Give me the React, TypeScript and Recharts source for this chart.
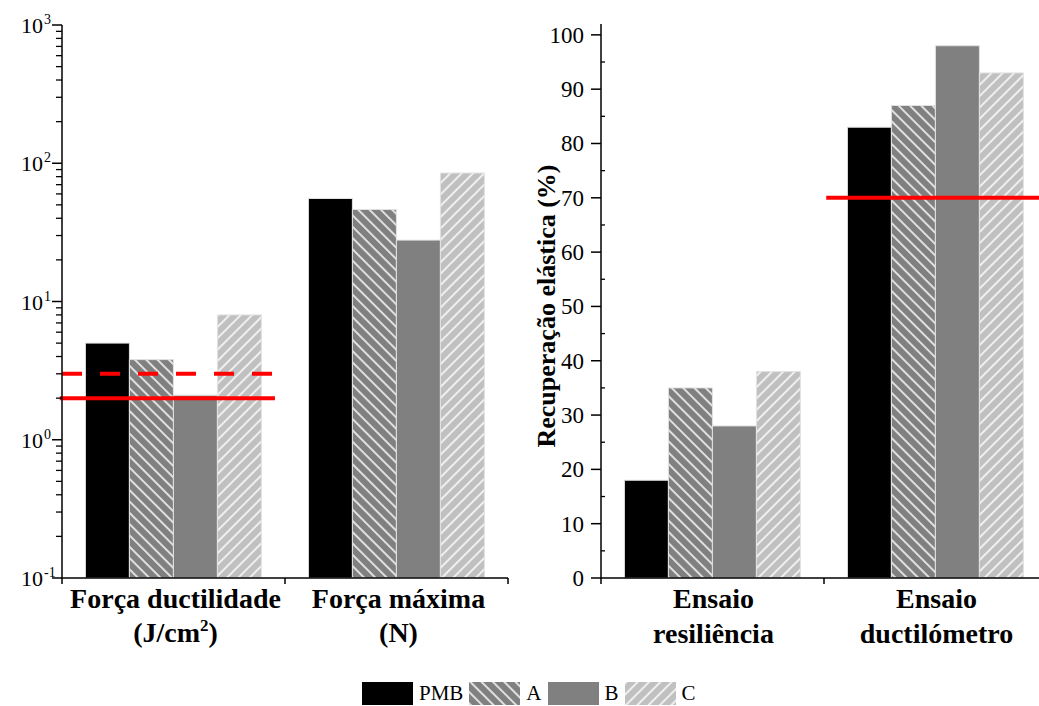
import React from 'react';
import { BarChart, Bar, XAxis, YAxis, ReferenceLine } from 'recharts';

// ---- data ----
const seriesNames = ['PMB', 'A', 'B', 'C'];

const leftCategories = ['Força ductilidade', 'Força máxima'];
const leftUnits = ['(J/cm²)', '(N)'];
const leftPMB = [5.0, 55.6];
const leftA = [3.8, 46.3];
const leftB = [2.1, 27.8];
const leftC = [8.0, 85];

const rightCategories = ['Ensaio', 'Ensaio'];
const rightSecond = ['resiliência', 'ductilómetro'];
const rightPMB = [18, 83];
const rightA = [35, 87];
const rightB = [28, 98];
const rightC = [38, 93];

// limit lines: value and horizontal span in category units (0 .. number of categories)
const leftLimitSolid = 2;
const leftLimitSolidSpan = [-0.01, 0.955];
const leftLimitDashed = 3;
const leftLimitDashedSpan = [0, 0.95];
const rightLimit = 70;
const rightLimitSpan = [1.01, 2];

const logMajor = [0.1, 1, 10, 100, 1000];
const linMajor = [0, 10, 20, 30, 40, 50, 60, 70, 80, 90, 100];

// ---- styling ----
const FONT = '"Liberation Serif", "Times New Roman", serif';
const PLOT_W = 446;
const RED = '#ff0000';
const fills = ['#000000', 'url(#hatchA)', '#808080', 'url(#hatchC)'];

const leftData = leftCategories.map((name, i) => ({
  name,
  unit: leftUnits[i],
  PMB: leftPMB[i],
  A: leftA[i],
  B: leftB[i],
  C: leftC[i],
}));

const rightData = rightCategories.map((name, i) => ({
  name: name + ' ' + rightSecond[i],
  line1: name,
  line2: rightSecond[i],
  PMB: rightPMB[i],
  A: rightA[i],
  B: rightB[i],
  C: rightC[i],
}));

// minor ticks for the log axis (2..9 in every decade)
const logTicks: number[] = [];
for (let d = 0; d < logMajor.length; d++) {
  logTicks.push(logMajor[d]);
  if (d < logMajor.length - 1) {
    for (let k = 2; k <= 9; k++) logTicks.push(+(logMajor[d] * k).toPrecision(3));
  }
}
const linTicks: number[] = [];
linMajor.forEach((v, i) => {
  linTicks.push(v);
  if (i < linMajor.length - 1) linTicks.push(v + 5);
});

function Patterns() {
  return (
    <svg width={0} height={0} style={{ position: 'absolute' }}>
      <defs>
        <pattern id="hatchA" patternUnits="userSpaceOnUse" width={8} height={8} patternTransform="rotate(-45)">
          <rect width={8} height={8} fill="#808080" />
          <line x1={1} y1={0} x2={1} y2={8} stroke="#ffffff" strokeWidth={1.5} />
        </pattern>
        <pattern id="hatchC" patternUnits="userSpaceOnUse" width={8} height={8} patternTransform="rotate(45)">
          <rect width={8} height={8} fill="#c0c0c0" />
          <line x1={1} y1={0} x2={1} y2={8} stroke="#ffffff" strokeWidth={1.5} />
        </pattern>
      </defs>
    </svg>
  );
}

// reference line limited to a span of the category range
function spanLine(span: number[], count: number, dash?: string) {
  return (p: any) => {
    const w = p.x2 - p.x1;
    const xa = p.x1 + (w * span[0]) / count;
    const xb = p.x1 + (w * span[1]) / count;
    return (
      <line x1={xa} y1={p.y1} x2={xb} y2={p.y2} stroke={RED} strokeWidth={4} strokeDasharray={dash} />
    );
  };
}

function LogTick(props: any) {
  const { x, y, payload } = props;
  const v = payload.value;
  const exp = Math.log10(v);
  const major = Math.abs(exp - Math.round(exp)) < 1e-6;
  if (!major) {
    return <line x1={x - 6} y1={y} x2={x} y2={y} stroke="#000" strokeWidth={1.3} />;
  }
  return (
    <g>
      <line x1={x - 10} y1={y} x2={x} y2={y} stroke="#000" strokeWidth={1.5} />
      <text x={x - 19} y={y + 8} textAnchor="end" fontFamily={FONT} fontSize={22} fill="#000">
        10
      </text>
      <text x={x - 18} y={y - 1} textAnchor="start" fontFamily={FONT} fontSize={14} fill="#000">
        {Math.round(exp)}
      </text>
    </g>
  );
}

function LinTick(props: any) {
  const { x, y, payload } = props;
  const v = payload.value;
  if (v % 10 !== 0) {
    return <line x1={x} y1={y} x2={x + 4} y2={y} stroke="#000" strokeWidth={1.3} />;
  }
  return (
    <g>
      <line x1={x - 10} y1={y} x2={x} y2={y} stroke="#000" strokeWidth={1.5} />
      <text x={x - 17} y={y + 8} textAnchor="end" fontFamily={FONT} fontSize={23} fill="#000">
        {v}
      </text>
    </g>
  );
}

function boundaryTicks(x: number, y: number, index: number, count: number) {
  const band = PLOT_W / count;
  const lines = [
    <line key="l" x1={x - band / 2} y1={y} x2={x - band / 2} y2={y + 6} stroke="#000" strokeWidth={1.5} />,
  ];
  if (index === count - 1) {
    lines.push(<line key="r" x1={x + band / 2} y1={y} x2={x + band / 2} y2={y + 6} stroke="#000" strokeWidth={1.5} />);
  }
  return lines;
}

function LeftCatTick(props: any) {
  const { x, y, index } = props;
  const row = leftData[index];
  const unitMain = row.unit.replace('²', '');
  const hasSq = row.unit.includes('²');
  return (
    <g>
      {boundaryTicks(x, y, index, leftData.length)}
      <text x={x + 2} y={y + 30} textAnchor="middle" fontFamily={FONT} fontWeight="bold" fontSize={28} fill="#000">
        {row.name}
      </text>
      <text x={x + 2} y={y + 64} textAnchor="middle" fontFamily={FONT} fontWeight="bold" fontSize={28} fill="#000">
        {hasSq ? (
          <>
            {unitMain.slice(0, unitMain.length - 1)}
            <tspan dy={-11} fontSize={17}>2</tspan>
            <tspan dy={11}>)</tspan>
          </>
        ) : (
          row.unit
        )}
      </text>
    </g>
  );
}

function RightCatTick(props: any) {
  const { x, y, index } = props;
  const row = rightData[index];
  return (
    <g>
      {boundaryTicks(x, y, index, rightData.length)}
      <text x={x + 1} y={y + 30} textAnchor="middle" fontFamily={FONT} fontWeight="bold" fontSize={28} fill="#000">
        {row.line1}
      </text>
      <text x={x + 1} y={y + 65} textAnchor="middle" fontFamily={FONT} fontWeight="bold" fontSize={28} fill="#000">
        {row.line2}
      </text>
    </g>
  );
}

function YTitle(props: any) {
  const vb = props.viewBox || { x: 0, y: 0, width: 0, height: 0 };
  const cx = vb.x + 26;
  const cy = 306;
  return (
    <text
      x={cx}
      y={cy}
      transform={`rotate(-90, ${cx}, ${cy})`}
      textAnchor="middle"
      dominantBaseline="central"
      fontFamily={FONT}
      fontWeight="bold"
      fontSize={26}
      fill="#000"
    >
      Recuperação elástica (%)
    </text>
  );
}

function Bars() {
  return seriesNames.map((s, i) => (
    <Bar key={s} dataKey={s} fill={fills[i]} stroke="#e2e2e2" strokeWidth={1} isAnimationActive={false} />
  ));
}

function LegendRow() {
  return (
    <div
      style={{
        position: 'absolute',
        left: 362,
        top: 682,
        display: 'flex',
        alignItems: 'center',
        fontFamily: FONT,
        fontSize: 21,
        color: '#000',
      }}
    >
      {seriesNames.map((s, i) => (
        <div key={s} style={{ display: 'flex', alignItems: 'center', marginRight: 6 }}>
          <svg width={51} height={23} style={{ display: 'block' }}>
            <rect x={0} y={0} width={51} height={23} fill={fills[i]} />
          </svg>
          <span style={{ marginLeft: 6, lineHeight: '23px' }}>{s}</span>
        </div>
      ))}
    </div>
  );
}

export default function App() {
  return (
    <div
      style={{
        position: 'fixed',
        left: 0,
        top: 0,
        width: 1039,
        height: 706,
        overflow: 'hidden',
        background: '#fff',
      }}
    >
      <Patterns />
      <div style={{ position: 'absolute', left: 0, top: 0 }}>
        <BarChart
          width={520}
          height={660}
          data={leftData}
          margin={{ top: 25, right: 12, bottom: 0, left: 0 }}
          barCategoryGap="10.5%"
          barGap={0}
        >
          <XAxis
            dataKey="name"
            height={82}
            tick={<LeftCatTick />}
            tickLine={false}
            tickSize={0}
            tickMargin={0}
            interval={0}
            axisLine={{ stroke: '#000', strokeWidth: 1.5 }}
          />
          <YAxis
            scale="log"
            domain={[0.1, 1000]}
            allowDataOverflow
            ticks={logTicks}
            interval={0}
            width={62}
            tick={<LogTick />}
            tickLine={false}
            tickSize={0}
            tickMargin={0}
            axisLine={{ stroke: '#000', strokeWidth: 1.5 }}
          />
          {Bars()}
          <ReferenceLine
            y={leftLimitSolid}
            ifOverflow="visible"
            shape={spanLine(leftLimitSolidSpan, leftData.length)}
          />
          <ReferenceLine
            y={leftLimitDashed}
            ifOverflow="visible"
            shape={spanLine(leftLimitDashedSpan, leftData.length, '20 18')}
          />
        </BarChart>
      </div>
      <div style={{ position: 'absolute', left: 520, top: 0 }}>
        <BarChart
          width={527}
          height={660}
          data={rightData}
          margin={{ top: 24, right: 0, bottom: 0, left: 0 }}
          barCategoryGap="10.5%"
          barGap={0}
        >
          <XAxis
            dataKey="name"
            height={82}
            tick={<RightCatTick />}
            tickLine={false}
            tickSize={0}
            tickMargin={0}
            interval={0}
            axisLine={{ stroke: '#000', strokeWidth: 1.5 }}
          />
          <YAxis
            domain={[0, 102]}
            ticks={linTicks}
            interval={0}
            width={81}
            tick={<LinTick />}
            tickLine={false}
            tickSize={0}
            tickMargin={0}
            axisLine={{ stroke: '#000', strokeWidth: 1.5 }}
            label={<YTitle />}
          />
          {Bars()}
          <ReferenceLine
            y={rightLimit}
            ifOverflow="visible"
            shape={spanLine(rightLimitSpan, rightData.length)}
          />
        </BarChart>
      </div>
      <LegendRow />
    </div>
  );
}
